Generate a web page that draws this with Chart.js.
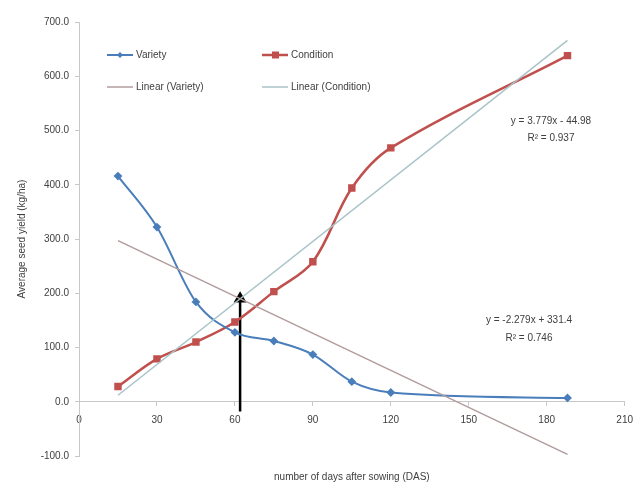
<!DOCTYPE html>
<html>
<head>
<meta charset="utf-8">
<script src="https://cdn.jsdelivr.net/npm/chart.js@4.4.1/dist/chart.umd.min.js"></script>
<style>
    html, body { margin: 0; padding: 0; background: #ffffff; }
    #wrap { width: 641px; height: 489px; }
</style>
</head>
<body>
<div id="wrap"><canvas id="yieldChart" width="641" height="489"></canvas></div>
<script>
// Sampling days and measured yields
const days = [15, 30, 45, 60, 75, 90, 105, 120, 188];
const variety = [416, 322, 184, 128, 112, 87, 37, 17, 7];
const condition = [28, 79, 110, 147, 203, 258, 394, 468, 638];

// Linear trend end points (first and last sampling day)
const trendDays = [15, 188];
const varietyTrend = [297, -97];
const conditionTrend = [12, 666];

// Equation labels for the trend lines
const varietyEquation = ['y = -2.279x + 331.4', 'R\u00B2 = 0.746'];
const conditionEquation = ['y = 3.779x - 44.98', 'R\u00B2 = 0.937'];

// Arrow marking where the two trend lines cross
const arrowDay = [62, 62];
const arrowSpan = [-18, 190];

const xTicks = [0, 30, 60, 90, 120, 150, 180, 210];
const xTitle = 'number of days after sowing (DAS)';

const BLUE = '#4A7EBB';
const RED = '#C0504D';
const TREND_V = '#B39C9C';
const TREND_C = '#A8C3C8';
const TEXT = '#404040';
const FONT = '"Liberation Sans", Arial, sans-serif';

function toPoints(xs, ys) {
    return xs.map((x, i) => ({ x: x, y: ys[i] }));
}

// Legend, equations and the bottom axis title
const annotations = {
    id: 'annotations',
    afterDraw(chart) {
        const ctx = chart.ctx;
        const area = chart.chartArea;
        ctx.save();
        ctx.font = '10px ' + FONT;
        ctx.fillStyle = TEXT;
        ctx.textBaseline = 'middle';

        const items = [
            { label: 'Variety', x: 107, y: 55, color: BLUE, width: 2, marker: 'diamond' },
            { label: 'Condition', x: 262, y: 55, color: RED, width: 2.5, marker: 'square' },
            { label: 'Linear (Variety)', x: 107, y: 87, color: TREND_V, width: 1.5 },
            { label: 'Linear (Condition)', x: 262, y: 87, color: TREND_C, width: 1.5 }
        ];
        items.forEach(item => {
            ctx.strokeStyle = item.color;
            ctx.lineWidth = item.width;
            ctx.beginPath();
            ctx.moveTo(item.x, item.y);
            ctx.lineTo(item.x + 26, item.y);
            ctx.stroke();
            ctx.fillStyle = item.color;
            if (item.marker === 'square') {
                ctx.fillRect(item.x + 10, item.y - 3.5, 7, 7);
            } else if (item.marker === 'diamond') {
                ctx.beginPath();
                ctx.moveTo(item.x + 13, item.y - 3);
                ctx.lineTo(item.x + 16, item.y);
                ctx.lineTo(item.x + 13, item.y + 3);
                ctx.lineTo(item.x + 10, item.y);
                ctx.closePath();
                ctx.fill();
            }
            ctx.fillStyle = TEXT;
            ctx.textAlign = 'left';
            ctx.fillText(item.label, item.x + 29, item.y);
        });

        ctx.textAlign = 'center';
        ctx.fillText(conditionEquation[0], 551, 121);
        ctx.fillText(conditionEquation[1], 551, 138);
        ctx.fillText(varietyEquation[0], 529, 320);
        ctx.fillText(varietyEquation[1], 529, 338);

        // x axis title sits under the plot, centred on the plot area
        ctx.fillText(xTitle, (area.left + area.right) / 2, area.bottom + 21);
        ctx.restore();
    }
};

const ctx = document.getElementById('yieldChart').getContext('2d');
new Chart(ctx, {
    type: 'line',
    data: {
        datasets: [
            {
                label: 'Linear (Variety)',
                data: toPoints(trendDays, varietyTrend),
                borderColor: TREND_V,
                borderWidth: 1.5,
                pointRadius: 0,
                tension: 0
            },
            {
                label: 'Linear (Condition)',
                data: toPoints(trendDays, conditionTrend),
                borderColor: TREND_C,
                borderWidth: 1.5,
                pointRadius: 0,
                tension: 0
            },
            {
                label: 'Variety',
                data: toPoints(days, variety),
                borderColor: BLUE,
                backgroundColor: BLUE,
                borderWidth: 2,
                pointStyle: 'rectRot',
                pointRadius: 3,
                cubicInterpolationMode: 'monotone'
            },
            {
                label: 'Condition',
                data: toPoints(days, condition),
                borderColor: RED,
                backgroundColor: RED,
                borderWidth: 2.5,
                pointStyle: 'rect',
                pointRadius: 3.5,
                tension: 0.35
            },
            {
                label: 'arrow',
                data: toPoints(arrowDay, arrowSpan),
                borderColor: '#000000',
                backgroundColor: '#000000',
                borderWidth: 2.5,
                pointStyle: 'triangle',
                pointRadius: [0, 5],
                tension: 0
            }
        ]
    },
    plugins: [annotations],
    options: {
        responsive: false,
        animation: false,
        layout: {
            padding: { top: 22, right: 1, left: 16, bottom: 33 }
        },
        plugins: {
            legend: { display: false },
            tooltip: { enabled: false }
        },
        scales: {
            x: {
                type: 'linear',
                position: { y: 0 },
                min: 0,
                max: 210,
                afterBuildTicks: scale => {
                    scale.ticks = xTicks.map(v => ({ value: v }));
                },
                ticks: {
                    color: TEXT,
                    font: { family: FONT, size: 10 },
                    padding: 8,
                    maxRotation: 0
                },
                grid: {
                    display: true,
                    drawOnChartArea: false,
                    drawTicks: true,
                    tickLength: 4,
                    color: '#c8c8c8'
                },
                border: { display: true, color: '#c8c8c8' }
            },
            y: {
                min: -100,
                max: 700,
                afterFit: scale => { scale.width = 63; },
                ticks: {
                    stepSize: 100,
                    color: TEXT,
                    font: { family: FONT, size: 10 },
                    padding: 6,
                    callback: v => v.toFixed(1)
                },
                grid: {
                    display: true,
                    drawOnChartArea: false,
                    drawTicks: true,
                    tickLength: 4,
                    color: '#c8c8c8'
                },
                border: { display: true, color: '#c8c8c8' },
                title: {
                    display: true,
                    text: 'Average seed yield (kg/ha)',
                    color: TEXT,
                    font: { family: FONT, size: 10 },
                    padding: { top: 0, bottom: 2 }
                }
            }
        }
    }
});
</script>
</body>
</html>
